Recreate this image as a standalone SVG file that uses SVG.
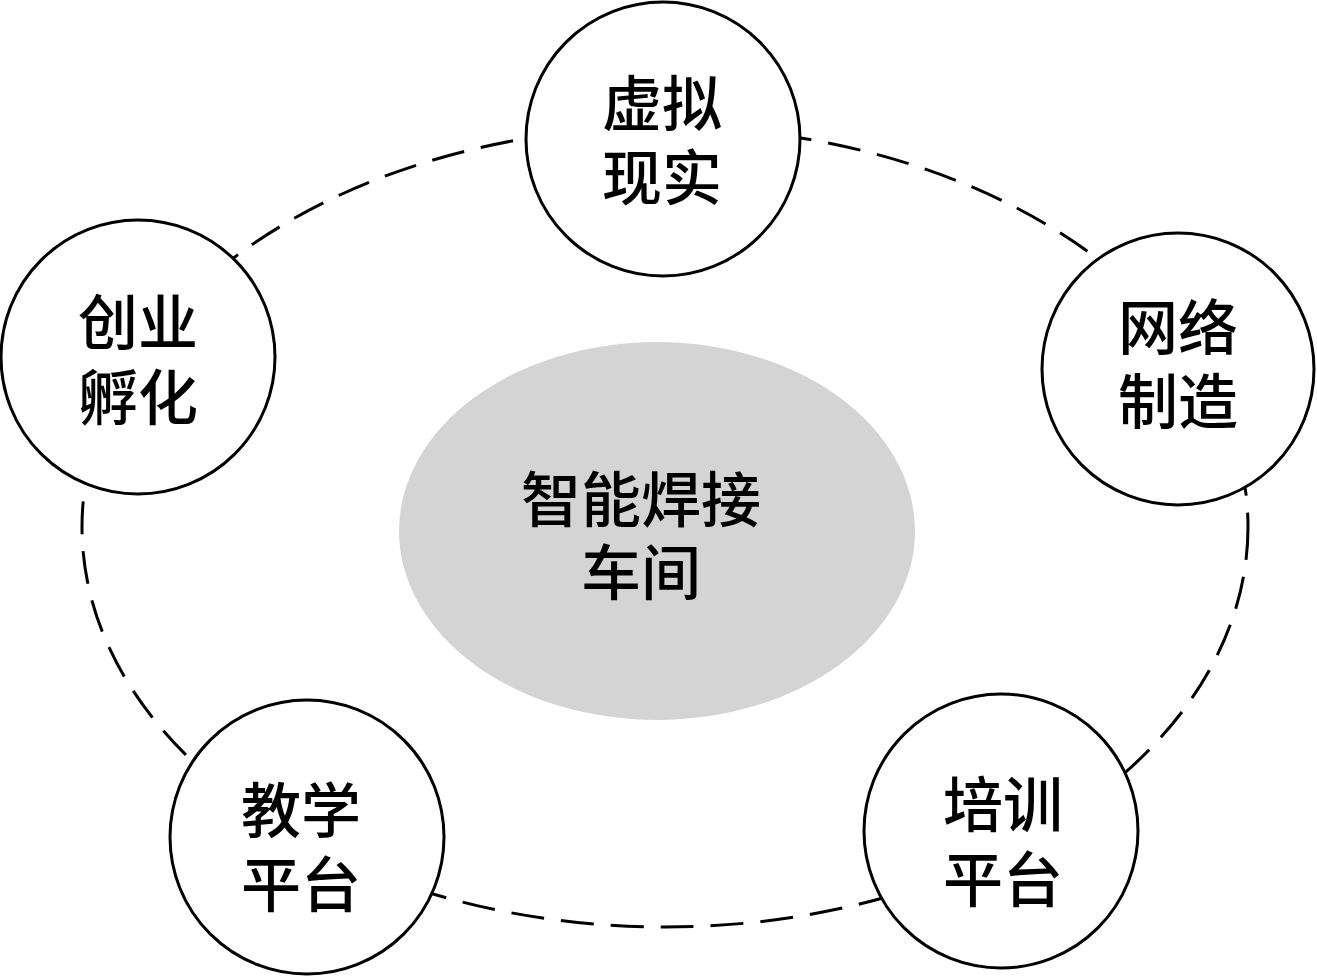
<svg xmlns="http://www.w3.org/2000/svg" width="1317" height="976" viewBox="0 0 1317 976">
<style>
.node{fill:#ffffff;stroke:#000000;stroke-width:3}
.hub{fill:#d4d4d4;stroke:none}
.ring{fill:none;stroke:#000000;stroke-width:3;stroke-dasharray:33 17}
text{font-family:"Noto Sans CJK SC","Noto Sans",sans-serif;font-size:60px;font-weight:500;fill:#000000;text-anchor:middle}
</style>
<rect width="1317" height="976" fill="#ffffff"/>
<g id="connectors">
<ellipse class="ring" cx="665" cy="527" rx="583" ry="400"/>
</g>
<g id="hub">
<ellipse class="hub" cx="657" cy="531" rx="258" ry="189"/>
<text x="641" y="522">智能焊接<tspan x="641" dy="73">车间</tspan></text>
</g>
<g id="node-vr">
<circle class="node" cx="663" cy="139" r="137"/>
<text x="662" y="126">虚拟<tspan x="662" dy="74">现实</tspan></text>
</g>
<g id="node-startup">
<circle class="node" cx="138" cy="357" r="137"/>
<text x="138" y="345">创业<tspan x="138" dy="75">孵化</tspan></text>
</g>
<g id="node-network">
<circle class="node" cx="1178" cy="369" r="136"/>
<text x="1178" y="350">网络<tspan x="1178" dy="74">制造</tspan></text>
</g>
<g id="node-teaching">
<circle class="node" cx="307" cy="837" r="137"/>
<text x="301" y="833">教学<tspan x="301" dy="74">平台</tspan></text>
</g>
<g id="node-training">
<circle class="node" cx="1001" cy="831" r="137"/>
<text x="1003" y="827">培训<tspan x="1003" dy="75">平台</tspan></text>
</g>
</svg>
